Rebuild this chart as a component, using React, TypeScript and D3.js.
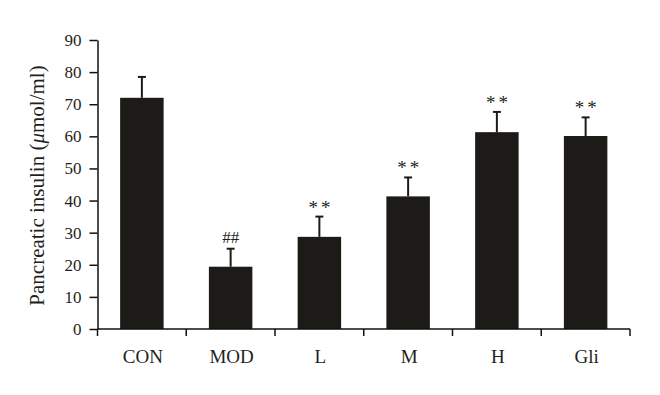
import { useEffect, useRef } from 'react';
import * as d3 from 'd3';

const groups = ['CON', 'MOD', 'L', 'M', 'H', 'Gli'];
const means = [72.0, 19.4, 28.7, 41.3, 61.3, 60.1];
const sds = [6.5, 5.6, 6.3, 5.9, 6.3, 5.8];
const marks = ['', '##', '**', '**', '**', '**'];
const yTicks = [0, 10, 20, 30, 40, 50, 60, 70, 80, 90];

export default function App() {
  const svgRef = useRef<SVGSVGElement>(null);

  useEffect(() => {
    if (!svgRef.current) return;
    const W = 660;
    const H = 395;
    const margin = { top: 40, right: 30, bottom: 66, left: 97.5 };

    d3.select(svgRef.current).selectAll('*').remove();
    const svg = d3.select(svgRef.current).attr('width', W).attr('height', H);
    const g = svg.append('g').attr('transform', `translate(${margin.left},${margin.top})`);

    const width = W - margin.left - margin.right;
    const height = H - margin.top - margin.bottom;

    const x = d3.scaleBand().domain(groups).range([0, width]).padding(0);
    const y = d3.scaleLinear().domain([0, 90]).range([height, 0]);

    const font = '"Liberation Serif", "DejaVu Serif", serif';
    const ink = '#1d1b17';
    const txt = '#231f20';
    const barW = x.bandwidth() * 0.49;

    // bars
    g.selectAll('.bar')
      .data(groups)
      .enter()
      .append('rect')
      .attr('x', (d) => (x(d) || 0) + x.bandwidth() / 2 - barW / 2)
      .attr('y', (_, i) => y(means[i]))
      .attr('width', barW)
      .attr('height', (_, i) => height - y(means[i]))
      .attr('fill', ink);

    // error bars (upper only) + significance marks
    groups.forEach((d, i) => {
      const cx = (x(d) || 0) + x.bandwidth() / 2;
      const top = y(means[i] + sds[i]);
      g.append('line')
        .attr('x1', cx).attr('x2', cx)
        .attr('y1', y(means[i])).attr('y2', top)
        .attr('stroke', ink).attr('stroke-width', 2);
      g.append('line')
        .attr('x1', cx - 4).attr('x2', cx + 4)
        .attr('y1', top).attr('y2', top)
        .attr('stroke', ink).attr('stroke-width', 2);
      if (marks[i] === '##') {
        g.append('text')
          .attr('x', cx)
          .attr('y', top - 6)
          .attr('text-anchor', 'middle')
          .style('font-family', font)
          .style('font-size', '17px')
          .style('fill', txt)
          .text(marks[i]);
      } else if (marks[i]) {
        g.append('text')
          .attr('x', cx + 1.5)
          .attr('y', top - 3)
          .attr('text-anchor', 'middle')
          .style('font-family', font)
          .style('font-size', '19px')
          .style('letter-spacing', '3px')
          .style('fill', txt)
          .text(marks[i]);
      }
    });

    // y axis
    const yAxis = g.append('g')
      .call(d3.axisLeft(y).tickValues(yTicks).tickSize(8).tickPadding(8).tickSizeOuter(0));
    yAxis.select('.domain').attr('stroke', '#111').attr('stroke-width', 1.5);
    yAxis.selectAll('.tick line').attr('stroke', '#111').attr('stroke-width', 1.5);
    yAxis.selectAll('.tick text')
      .style('font-family', font)
      .style('font-size', '17px')
      .style('fill', txt);

    // x axis with ticks at band boundaries
    const xAxis = g.append('g').attr('transform', `translate(0,${height})`);
    xAxis.append('line')
      .attr('x1', 0).attr('x2', width)
      .attr('stroke', '#111').attr('stroke-width', 1.5);
    const edges = groups.map((d) => x(d) || 0).concat([width]);
    xAxis.selectAll('.xtick')
      .data(edges)
      .enter()
      .append('line')
      .attr('x1', (d) => d).attr('x2', (d) => d)
      .attr('y1', 0).attr('y2', 7)
      .attr('stroke', '#111').attr('stroke-width', 1.5);
    xAxis.selectAll('.xlabel')
      .data(groups)
      .enter()
      .append('text')
      .attr('x', (d) => (x(d) || 0) + x.bandwidth() / 2 + 1)
      .attr('y', 34)
      .attr('text-anchor', 'middle')
      .style('font-family', font)
      .style('font-size', '19px')
      .style('fill', txt)
      .text((d) => d);

    // y label
    const lbl = svg.append('text')
      .attr('transform', `translate(44,${margin.top + height / 2 + 1}) rotate(-90)`)
      .attr('text-anchor', 'middle')
      .style('font-family', font)
      .style('font-size', '21px')
      .style('fill', txt);
    lbl.append('tspan').text('Pancreatic insulin (');
    lbl.append('tspan').style('font-style', 'italic').text('\u03bc');
    lbl.append('tspan').text('mol/ml)');
  }, []);

  return (
    <svg
      ref={svgRef}
      style={{ position: 'absolute', left: 0, top: 0, background: '#fff' }}
    />
  );
}
